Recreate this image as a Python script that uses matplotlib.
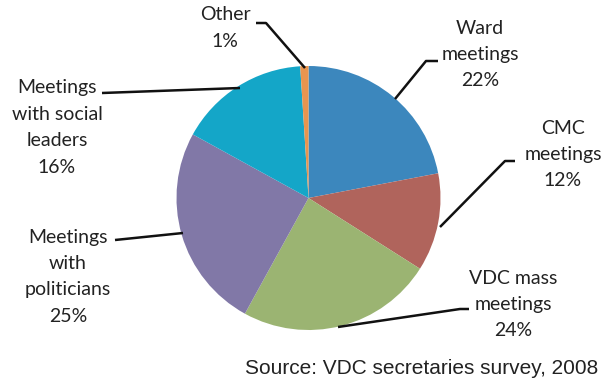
import matplotlib.pyplot as plt

# Meeting types reported by VDC secretaries
categories = ['Ward\nmeetings', 'CMC\nmeetings', 'VDC mass\nmeetings',
              'Meetings\nwith\npoliticians', 'Meetings\nwith social\nleaders', 'Other']
shares = [22, 12, 24, 25, 16, 1]
colors = ['#3c87bd', '#b0645c', '#9bb472', '#8178a7', '#14a6c8', '#e8954f']

W, H = 603, 381
fig = plt.figure(figsize=(W / 100, H / 100), dpi=100)
ax = fig.add_axes([0, 0, 1, 1])

# pie centre/radius in pixel units (y measured from the top)
cx, cy, r = 308.5, 198, 132
ax.pie(shares, colors=colors, startangle=90, counterclock=False,
       center=(cx, H - cy), radius=r, frame=True,
       wedgeprops=dict(linewidth=0))
ax.set_xlim(0, W)
ax.set_ylim(0, H)
ax.set_aspect('equal')
ax.axis('off')

# label centre (x, y of first line) and leader line points, pixel coords from top
label_pos = [(480, 28), (563, 128), (513, 278), (68, 237), (57, 88), (225, 15)]
leaders = [
    [(395, 99), (426, 61), (438, 61)],
    [(440, 227), (505, 161), (515, 161)],
    [(338, 327), (460, 309), (469, 309)],
    [(183, 233), (115, 240)],
    [(240, 88), (102, 93)],
    [(305, 68), (266, 23), (256, 23)],
]

lab_font = dict(family=['Lato', 'DejaVu Sans'], fontsize=14, color='#222222')
for name, val, (lx, ly), pts in zip(categories, shares, label_pos, leaders):
    lines = name.split('\n') + [f'{val}%']
    for i, line in enumerate(lines):
        ax.text(lx, H - (ly + i * 26.5), line, ha='center', va='center', **lab_font)
    xs = [p[0] for p in pts]
    ys = [H - p[1] for p in pts]
    ax.plot(xs, ys, color='#111111', lw=1.8, solid_capstyle='butt')

ax.text(598, H - 369, 'Source: VDC secretaries survey, 2008', ha='right', va='center',
        family='Liberation Sans', fontsize=15, color='#222222')

fig.savefig('out.png', dpi=100)
